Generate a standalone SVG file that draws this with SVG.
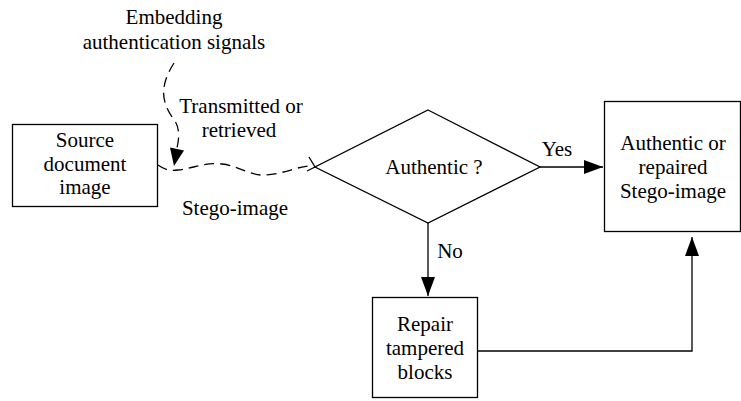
<svg xmlns="http://www.w3.org/2000/svg" width="741" height="401" viewBox="0 0 741 401">
  <style>
    text { font-family: "Liberation Serif", "Times New Roman", serif; font-size: 21px; fill: #000; text-anchor: middle; }
    .box { fill: #fff; stroke: #000; stroke-width: 1.3; }
    .line { fill: none; stroke: #000; stroke-width: 1.3; }
    .dash { fill: none; stroke: #000; stroke-width: 1.3; stroke-dasharray: 10 6; }
  </style>
  <defs>
    <marker id="arrow" markerUnits="userSpaceOnUse" markerWidth="19" markerHeight="14" refX="19" refY="7" orient="auto">
      <path d="M0,0 L19,7 L0,14 z" fill="#000"/>
    </marker>
  </defs>
  <rect width="741" height="401" fill="#fff"/>

  <g id="connectors">
    <!-- embedding signals into the source image -->
    <path class="dash" d="M174,63 C160,85 160,102 175,121 C180,129 179,139 177,148"/>
    <polygon points="174,166 170,147.5 184,150.5" fill="#000"/>
    <!-- wavy channel: transmitted or retrieved stego-image -->
    <path class="dash" d="M158,165 C165,170 170,171 178,170 C195,168 205,162 222,164 C240,166 250,176 265,175 C285,174 300,165 313,166"/>
    <path class="line" d="M309,157 L315,167 L307,171"/>
    <!-- yes branch -->
    <path class="line" d="M540,167 H603" marker-end="url(#arrow)"/>
    <!-- no branch -->
    <path class="line" d="M428,223 V296" marker-end="url(#arrow)"/>
    <!-- repaired result -->
    <path class="line" d="M478,351 H692 V237" marker-end="url(#arrow)"/>
  </g>

  <g id="label-embedding">
    <text x="174" y="24">Embedding</text>
    <text x="174" y="49">authentication signals</text>
  </g>
  <g id="label-transmitted">
    <text x="241" y="113">Transmitted or</text>
    <text x="239" y="137">retrieved</text>
  </g>
  <g id="label-stego">
    <text x="235" y="215">Stego-image</text>
  </g>

  <g id="source">
    <rect class="box" x="12.5" y="124.5" width="145" height="82"/>
    <text x="85" y="147">Source</text>
    <text x="85" y="171">document</text>
    <text x="85" y="194">image</text>
  </g>

  <g id="decision">
    <polygon class="box" points="428,110 540,167 428,223 315,167"/>
    <text x="434" y="174">Authentic ?</text>
  </g>

  <g id="label-yes"><text x="557" y="156">Yes</text></g>
  <g id="label-no"><text x="450" y="258">No</text></g>

  <g id="result">
    <rect class="box" x="604.5" y="101.5" width="136" height="130"/>
    <text x="673" y="150">Authentic or</text>
    <text x="673" y="174">repaired</text>
    <text x="673" y="198">Stego-image</text>
  </g>

  <g id="repair">
    <rect class="box" x="372.5" y="297.5" width="105" height="100"/>
    <text x="425" y="331">Repair</text>
    <text x="425" y="355">tampered</text>
    <text x="425" y="379">blocks</text>
  </g>
</svg>
